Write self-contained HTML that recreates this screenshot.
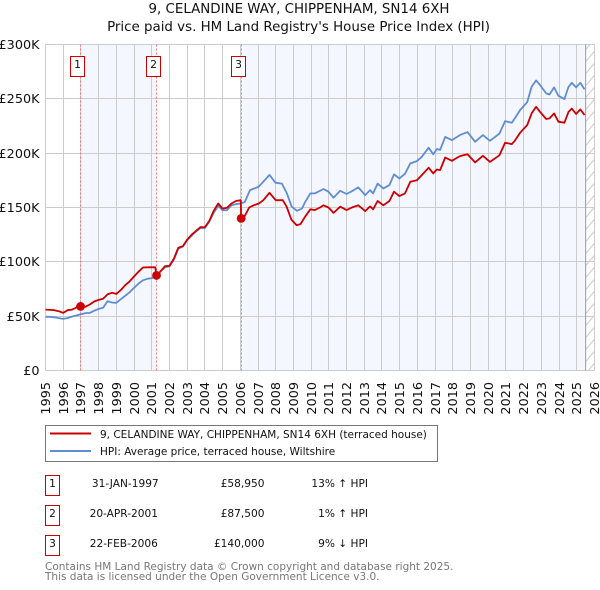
<!DOCTYPE html>
<html><head><meta charset="utf-8"><title>9, CELANDINE WAY price chart</title>
<style>
html,body{margin:0;padding:0;background:#fff;width:600px;height:590px;overflow:hidden}
svg{display:block}
text{font-family:"DejaVu Sans","Liberation Sans",sans-serif;fill:#111}
</style></head><body>
<svg id="chart" xmlns="http://www.w3.org/2000/svg" width="600" height="590" viewBox="0 0 600 590">
<defs><pattern id="hatch" width="9" height="12" patternUnits="userSpaceOnUse" patternTransform="translate(585.5,2)"><path d="M-1 13L10 0" stroke="#ccc" stroke-width="1" fill="none"/></pattern></defs>
<text x="299" y="13" font-size="13.4" text-anchor="middle">9, CELANDINE WAY, CHIPPENHAM, SN14 6XH</text>
<text x="298.5" y="31" font-size="13.4" text-anchor="middle">Price paid vs. HM Land Registry's House Price Index (HPI)</text>
<g id="plot"></g>
<g>
<rect x="45.5" y="425.5" width="392" height="36" fill="#fff" stroke="#777"/>
<line x1="50" x2="91" y1="433.5" y2="433.5" stroke="#cc0000" stroke-width="2"/>
<text x="100" y="438" font-size="10.5">9, CELANDINE WAY, CHIPPENHAM, SN14 6XH (terraced house)</text>
<line x1="50" x2="91" y1="451" y2="451" stroke="#5f8dd3" stroke-width="2"/>
<text x="100" y="455" font-size="10.5">HPI: Average price, terraced house, Wiltshire</text>
</g>
<g font-size="10.6">
<rect x="45.5" y="475.5" width="14" height="20" fill="#fff" stroke="#c00"/>
<text x="52.5" y="487" text-anchor="middle">1</text>
<text x="125.3" y="487" text-anchor="middle">31-JAN-1997</text>
<text x="264.5" y="487" text-anchor="end">£58,950</text>
<text x="368" y="487" text-anchor="end">13% ↑ HPI</text>
<rect x="45.5" y="505.5" width="14" height="20" fill="#fff" stroke="#c00"/>
<text x="52.5" y="517" text-anchor="middle">2</text>
<text x="123.8" y="517" text-anchor="middle">20-APR-2001</text>
<text x="264.5" y="517" text-anchor="end">£87,500</text>
<text x="368" y="517" text-anchor="end">1% ↑ HPI</text>
<rect x="45.5" y="535.5" width="14" height="20" fill="#fff" stroke="#c00"/>
<text x="52.5" y="547" text-anchor="middle">3</text>
<text x="123.8" y="547" text-anchor="middle">22-FEB-2006</text>
<text x="264.5" y="547" text-anchor="end">£140,000</text>
<text x="368" y="547" text-anchor="end">9% ↓ HPI</text>
</g>
<text x="45" y="570" font-size="10.5" style="fill:#777">Contains HM Land Registry data © Crown copyright and database right 2025.</text>
<text x="45" y="580" font-size="10.5" style="fill:#777">This data is licensed under the Open Government Licence v3.0.</text>
</svg>
<script>
const yearTicks = [1995,1996,1997,1998,1999,2000,2001,2002,2003,2004,2005,2006,2007,2008,2009,2010,2011,2012,2013,2014,2015,2016,2017,2018,2019,2020,2021,2022,2023,2024,2025,2026];
const valueTicks = [0,50,100,150,200,250,300];
const valueLabels = ["£0","£50K","£100K","£150K","£200K","£250K","£300K"];
const hpiDates = [1995,1995.25,1995.5,1995.75,1996,1996.25,1996.5,1996.75,1997,1997.25,1997.5,1997.75,1998,1998.25,1998.5,1998.75,1999,1999.25,1999.5,1999.75,2000,2000.25,2000.5,2000.75,2001,2001.25,2001.5,2001.75,2002,2002.25,2002.5,2002.75,2003,2003.25,2003.5,2003.75,2004,2004.25,2004.5,2004.75,2005,2005.25,2005.5,2005.75,2006,2006.25,2006.55,2007.03,2007.3,2007.65,2007.98,2008.35,2008.63,2008.9,2009.2,2009.48,2009.66,2009.95,2010.2,2010.5,2010.7,2010.98,2011.26,2011.64,2012,2012.3,2012.66,2013.05,2013.33,2013.5,2013.75,2014.08,2014.42,2014.68,2014.98,2015.3,2015.6,2015.97,2016.25,2016.63,2016.9,2017.1,2017.28,2017.57,2017.95,2018.4,2018.83,2019.26,2019.7,2020.1,2020.63,2020.95,2021.33,2021.5,2021.8,2022.2,2022.45,2022.7,2022.93,2023.27,2023.46,2023.72,2023.96,2024.3,2024.53,2024.72,2024.96,2025.2,2025.44];
const hpiValues = [49.4,49.4,49,48.2,47.5,48.2,49.7,50.6,51.8,52.8,53,55,56.7,57.7,63.8,62.6,62.3,65.6,68.7,72,76,80,83,84.4,85,86,91.4,95,96,102,112,114,120,124,128,131,131,137,145,151.5,147.5,147.5,152,153,153.7,155,166,169,173.7,180,172.8,172,163,150.7,147,149,155,163,163,165.4,167,164.5,159,165.4,162.4,165,168.5,161.4,166,163,172,167.6,170.6,180.5,176.8,181,190.6,192.7,196.7,205,199,203.8,203,215,212,216.6,219.4,210.5,216.6,211.4,218,229.5,228,232,239.6,247,261,267,262.6,255,254,260.5,252.8,249.8,261,264.8,260.5,264.8,258.7];
const priceDates = [1995,1995.25,1995.5,1995.75,1996,1996.25,1996.5,1996.75,1996.98,1997.25,1997.5,1997.75,1998,1998.25,1998.5,1998.75,1999,1999.25,1999.5,1999.75,2000,2000.25,2000.5,2000.75,2001,2001.2,2001.27,2001.5,2001.75,2002,2002.25,2002.5,2002.75,2003,2003.25,2003.5,2003.75,2004,2004.25,2004.5,2004.75,2005,2005.25,2005.5,2005.75,2006.02,2006.05,2006.24,2006.5,2006.75,2007.05,2007.3,2007.65,2008,2008.4,2008.62,2008.88,2009.18,2009.4,2009.66,2009.95,2010.2,2010.5,2010.7,2010.98,2011.26,2011.64,2012,2012.3,2012.66,2013.05,2013.33,2013.5,2013.75,2014.08,2014.42,2014.68,2014.98,2015.3,2015.6,2015.97,2016.25,2016.63,2016.9,2017.1,2017.28,2017.57,2017.95,2018.4,2018.83,2019.26,2019.7,2020.1,2020.63,2020.95,2021.33,2021.5,2021.8,2022.2,2022.45,2022.7,2022.93,2023.27,2023.46,2023.72,2023.96,2024.3,2024.53,2024.72,2024.96,2025.2,2025.44];
const priceValues = [56,55.8,55.5,54.6,53,55.5,56,58,59.2,58.6,60.7,63.5,65,66,70,71.5,70.5,74,78.5,82,86.5,90.8,94.8,95,95,95,87.5,91.4,96,96.3,103,113,114.4,120.5,125,128.5,132,132,137.7,147,153.7,149,149.7,153.7,156,156.7,139.6,142,150,152,153.7,156.7,163.5,156.7,156.7,150.6,139,133.7,134.7,141.5,148.3,147.6,150,152,150,145,150.7,147.6,150,152,146.7,151,148.3,156,152,156,164.5,160.5,163,173.7,175,179.8,186.6,181.4,185,184.4,196,193,197.3,199,191.5,197.6,192,198,209.6,208.3,211.4,218.8,225.8,236.6,242.7,238,231.4,232,236.6,229,228,238,241,236,240.3,235];
const saleDates = [1996.98,2001.27,2006.05];
const saleValues = [58.95,87.5,140];
const saleLabels = ["1","2","3"];
const dataEnd = [2025.5];

const NS = "http://www.w3.org/2000/svg";
const plot = document.getElementById("plot");
const L = 45.5, R = 594.5, T = 44.5, B = 370.5;
const xPos = t => L + (t - 1995) * (R - L) / 31;
const yPos = v => B - v * (B - T) / 300;
function mk(tag, attrs, parent) {
  const e = document.createElementNS(NS, tag);
  for (const k in attrs) e.setAttribute(k, attrs[k]);
  (parent || plot).appendChild(e);
  return e;
}
const b1 = mk("rect", {x: xPos(saleDates[0]), y: T, width: xPos(saleDates[1]) - xPos(saleDates[0]), height: B - T, fill: "#f4f7ff"});


const b2 = mk("rect", {x: xPos(saleDates[2]), y: T, width: xPos(dataEnd[0]) - xPos(saleDates[2]), height: B - T, fill: "#f4f7ff"});


const hz = mk("rect", {x: xPos(dataEnd[0]), y: T, width: R - xPos(dataEnd[0]), height: B - T, fill: "url(#hatch)"});


yearTicks.forEach(yr => {
  const x = Math.round(xPos(yr) - 0.5) + 0.5;
  const g = mk("line", {x1: x, x2: x, y1: T, y2: B, stroke: "#ccc", "stroke-width": 1});
  
  
  const t = mk("text", {x: 0, y: 0, "font-size": 12.8, "text-anchor": "end", transform: "translate(" + (x + 4.7) + "," + 382 + ") rotate(-90)"});
  
  
  t.textContent = yr;
});
valueTicks.forEach((v, i) => {
  const y = Math.round(yPos(v) - 0.5) + 0.5;
  const g = mk("line", {x1: L, x2: R, y1: y, y2: y, stroke: "#ccc", "stroke-width": 1});
  
  
  const t = mk("text", {x: 39.5, y: y + 4.7, "font-size": 12.8, "text-anchor": "end"});
  
  
  t.textContent = valueLabels[i];
});
const endLine = mk("line", {x1: xPos(dataEnd[0]), x2: xPos(dataEnd[0]), y1: T, y2: B, stroke: "#999", "stroke-width": 1});


saleDates.forEach(d => {
  const x = Math.round(xPos(d) - 0.5) + 0.5;
  const l = mk("line", {x1: x, x2: x, y1: T, y2: B, stroke: "#ff7777", "stroke-width": 1, "stroke-dasharray": "2 2"});
  
  
});
const pts = (xs, ys) => xs.map((d, i) => xPos(d).toFixed(1) + "," + yPos(ys[i]).toFixed(1)).join(" ");
const hpiLine = mk("polyline", {points: pts(hpiDates, hpiValues), fill: "none", stroke: "#5f8dd3", "stroke-width": 1.8, "stroke-linejoin": "round"});


const priceLine = mk("polyline", {points: pts(priceDates, priceValues), fill: "none", stroke: "#cc0000", "stroke-width": 1.8, "stroke-linejoin": "round"});


saleDates.forEach((d, i) => {
  const c = mk("circle", {cx: xPos(d), cy: yPos(saleValues[i]), r: 4.4, fill: "#cc0000"});
  
  
  const x = Math.round(xPos(d) - 0.5) + 0.5;
  const r = mk("rect", {x: x - 10, y: 56.5, width: 14, height: 20, fill: "#fff", stroke: "#c00", "stroke-width": 1});
  
  
  const t = mk("text", {x: x - 3, y: 68, "font-size": 10.8, "text-anchor": "middle"});
  
  
  t.textContent = saleLabels[i];
});
</script>
</body></html>
